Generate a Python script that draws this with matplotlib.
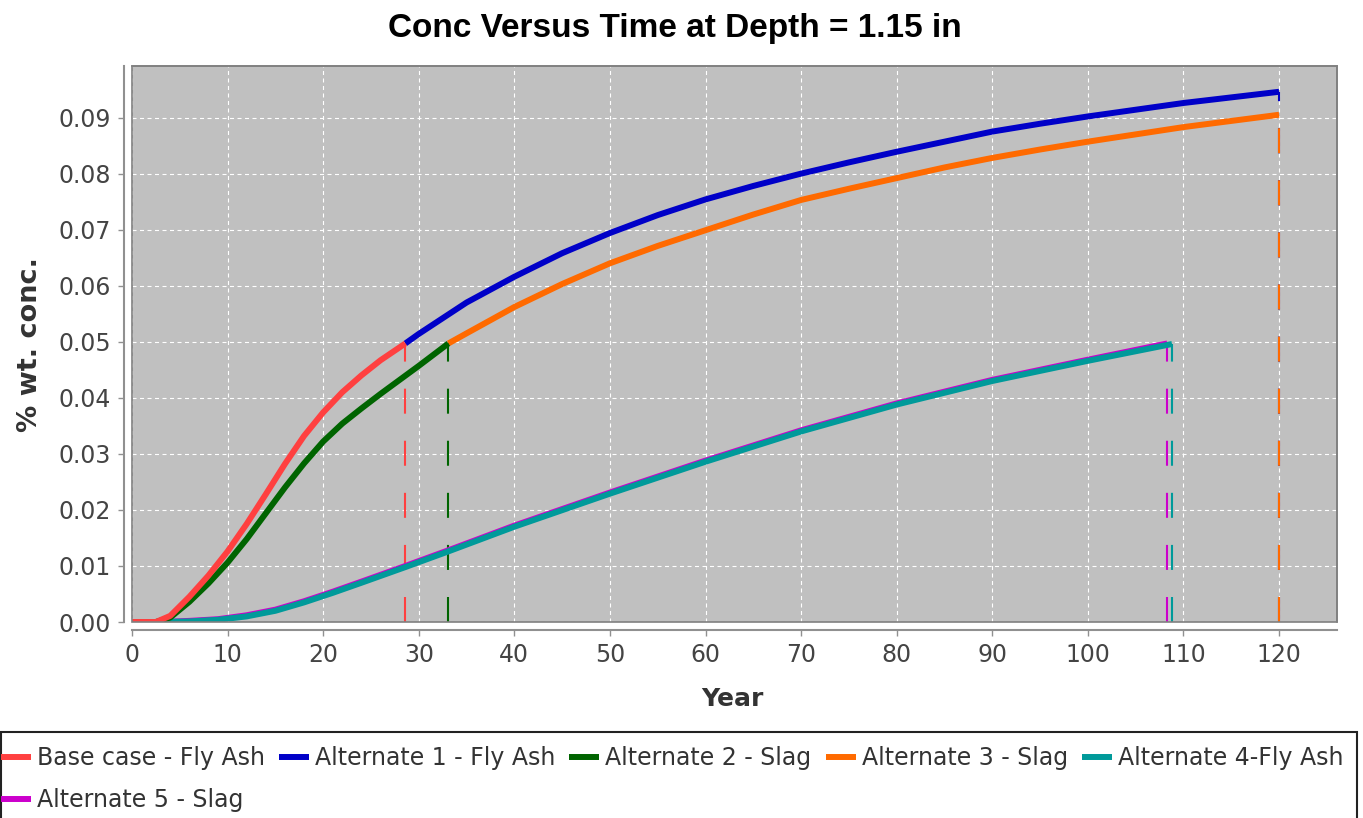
import numpy as np
import matplotlib
matplotlib.use("Agg")
import matplotlib.pyplot as plt
from matplotlib.patches import Rectangle
from matplotlib.ticker import FormatStrFormatter, MultipleLocator

plt.rcParams['lines.scale_dashes'] = False

# Base case - Fly Ash
t_base = [0, 2.5, 4, 6, 8, 10, 12, 14, 16, 18, 20, 22, 24, 26, 28.6]
c_base = [0, 0, 0.0011, 0.0045, 0.0083, 0.0126, 0.0175, 0.0228, 0.0282, 0.0332,
          0.0374, 0.0410, 0.0440, 0.0467, 0.0497]
# Alternate 1 - Fly Ash
t_alt1 = [28.6, 30, 35, 40, 45, 50, 55, 60, 65, 70, 75, 80, 85, 90, 95, 100, 105, 110, 115, 120]
c_alt1 = [0.0497, 0.0514, 0.0570, 0.0616, 0.0658, 0.0694, 0.0726, 0.0754, 0.0778, 0.0800,
          0.0820, 0.0839, 0.0857, 0.0875, 0.0889, 0.0902, 0.0914, 0.0926, 0.0936, 0.0946]
# Alternate 2 - Slag
t_alt2 = [0, 2.5, 4, 6, 8, 10, 12, 14, 16, 18, 20, 22, 24, 26, 28, 30, 33.1]
c_alt2 = [0, 0, 0.0008, 0.0036, 0.0069, 0.0106, 0.0148, 0.0194, 0.0240, 0.0283,
          0.0322, 0.0354, 0.0381, 0.0407, 0.0432, 0.0457, 0.0497]
# Alternate 3 - Slag
t_alt3 = [33.1, 35, 40, 45, 50, 55, 60, 65, 70, 75, 80, 85, 90, 95, 100, 105, 110, 115, 120]
c_alt3 = [0.0497, 0.0515, 0.0562, 0.0603, 0.0640, 0.0671, 0.0699, 0.0727, 0.0753, 0.0773,
          0.0792, 0.0811, 0.0828, 0.0843, 0.0857, 0.0870, 0.0883, 0.0894, 0.0905]
# Alternate 4-Fly Ash
t_alt4 = [0, 3, 6, 9, 12, 15, 18, 21, 24, 28.6, 33.1, 40, 50, 60, 70, 80, 90, 100, 108.8]
c_alt4 = [0, 0, 0.0001, 0.0004, 0.0010, 0.0020, 0.0035, 0.0052, 0.0070, 0.0098, 0.0126,
          0.0170, 0.0229, 0.0286, 0.0340, 0.0388, 0.0430, 0.0466, 0.0496]
# Alternate 5 - Slag
t_alt5 = [0, 3, 6, 9, 12, 15, 18, 21, 24, 28.6, 33.1, 40, 50, 60, 70, 80, 90, 100, 108.3]
c_alt5 = [0, 0, 0.0002, 0.0005, 0.0012, 0.0022, 0.0037, 0.0054, 0.0072, 0.0100, 0.0128,
          0.0172, 0.0231, 0.0288, 0.0342, 0.0390, 0.0432, 0.0468, 0.0497]

names = ['Base case - Fly Ash', 'Alternate 1 - Fly Ash', 'Alternate 2 - Slag',
         'Alternate 3 - Slag', 'Alternate 4-Fly Ash', 'Alternate 5 - Slag']
times = [t_base, t_alt1, t_alt2, t_alt3, t_alt4, t_alt5]
concs = [c_base, c_alt1, c_alt2, c_alt3, c_alt4, c_alt5]
colors = ['#ff4040', '#0000c8', '#006400', '#ff6a00', '#009a9a', '#cc00cc']

fig = plt.figure(figsize=(13.63, 8.18), dpi=100)
ax = fig.add_axes([132/1363, 1-622/818, 1205/1363, 556/818])
ax.set_facecolor('#c0c0c0')

handles = []
n = len(names)
for i in range(n):
    # first series ends up on top, like the original chart
    ln, = ax.plot(times[i], concs[i], color=colors[i], lw=4.3, label=names[i],
                  zorder=20 + (n - i), solid_capstyle='butt')
    handles.append(ln)
    # drop line from the end point down to zero
    ax.plot([times[i][-1], times[i][-1]], [0, concs[i][-1]], color=colors[i], lw=1.5,
            dashes=(18, 19.5), zorder=10 + i)

ax.set_xlim(0, 126.06)
ax.set_ylim(0, 0.0992)
ax.xaxis.set_major_locator(MultipleLocator(10))
ax.yaxis.set_major_locator(MultipleLocator(0.01))
ax.yaxis.set_major_formatter(FormatStrFormatter('%.2f'))
ax.grid(True, color='white', lw=0.8, dashes=(2.9, 2.5), zorder=1)
ax.set_axisbelow(True)

for s in ['top', 'right']:
    ax.spines[s].set_color('#808080')
    ax.spines[s].set_linewidth(1.2)
for s in ['left', 'bottom']:
    ax.spines[s].set_position(('outward', 6))
    ax.spines[s].set_color('#909090')
    ax.spines[s].set_linewidth(1.5)
ax.add_patch(Rectangle((0, 0), 1, 1, transform=ax.transAxes, fill=False,
                       edgecolor='#808080', lw=1.2, clip_on=False, zorder=30))
ax.tick_params(direction='out', length=4, width=1, color='#909090',
               labelsize=17, labelcolor='#444444', pad=5)

fig.text(675/1363, 1-37/818, 'Conc Versus Time at Depth = 1.15 in', ha='center',
         va='baseline', fontsize=24, fontweight='bold', family='Liberation Sans')
fig.text(732/1363, 1-706/818, 'Year', ha='center', va='baseline', fontsize=18,
         fontweight='bold', color='#333333')
fig.text(30/1363, 1-345/818, '% wt. conc.', ha='center', va='center', rotation=90,
         fontsize=19.5, fontweight='bold', color='#333333')

# legend box spanning the figure width
fig.patches.append(Rectangle((0.5/1363, -0.05), 1356/1363, 0.05 + (818-732)/818,
                             transform=fig.transFigure, fill=False,
                             edgecolor='#222222', lw=1.5))
order = [0, 5, 1, 2, 3, 4]
fig.legend([handles[k] for k in order], [names[k] for k in order], ncol=5,
           loc='upper left', bbox_to_anchor=(1/1363, 1-746/818), frameon=False,
           fontsize=17, handlelength=1.27, handletextpad=0.25, columnspacing=0.6,
           labelspacing=0.78, borderpad=0, borderaxespad=0, labelcolor='#333333')

fig.savefig('out.png', dpi=100)
